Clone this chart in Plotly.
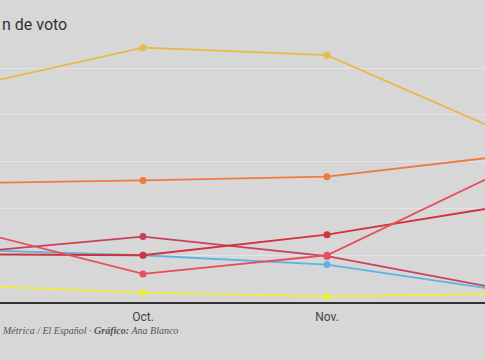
import plotly.graph_objects as go

months = ["Sep.", "Oct.", "Nov.", "Dic."]

serie_oro = [22.8, 27.2, 26.4, 17.8]
serie_naranja = [12.7, 13.0, 13.4, 15.7]
serie_roja = [5.1, 5.0, 7.2, 10.4]
serie_rosa = [8.0, 3.0, 5.0, 14.4]
serie_carmesi = [5.2, 7.0, 4.9, 1.2]
serie_azul = [5.6, 5.0, 4.0, 1.1]
serie_amarilla = [1.8, 1.0, 0.6, 0.9]

series = [
    (serie_amarilla, "#f0ee3c"),
    (serie_azul, "#5bb4e3"),
    (serie_carmesi, "#c9405e"),
    (serie_roja, "#d2323c"),
    (serie_rosa, "#e5505c"),
    (serie_naranja, "#ee7a3e"),
    (serie_oro, "#e8b944"),
]

fig = go.Figure()
for vals, col in series:
    fig.add_trace(go.Scatter(
        x=months, y=vals, mode="lines+markers",
        line=dict(color=col, width=1.8),
        marker=dict(color=col, size=7),
        showlegend=False, hoverinfo="skip", cliponaxis=True,
    ))

fig.update_layout(
    width=485, height=360,
    margin=dict(l=0, r=0, t=40, b=58, autoexpand=False),
    paper_bgcolor="#d7d7d7", plot_bgcolor="#d7d7d7",
    showlegend=False,
    xaxis=dict(
        type="category", range=[0.2228, 2.859],
        showgrid=False, zeroline=False,
        showline=True, linecolor="#333333", linewidth=2,
        ticks="outside", ticklen=3, tickcolor="rgba(0,0,0,0)",
        tickfont=dict(family="Roboto", size=12, color="#444444"),
        tickvals=["Oct.", "Nov."],
    ),
    yaxis=dict(
        range=[0, 28.02], dtick=5, showgrid=True, gridcolor="#e4e4e4",
        gridwidth=1, zeroline=False, showticklabels=False,
    ),
    annotations=[
        dict(text="n de voto", xref="paper", yref="paper", x=0, y=1,
             xanchor="left", yanchor="middle", yshift=16, showarrow=False,
             font=dict(family="Roboto", size=16, color="#333333")),
        dict(text="<i>Métrica / El Español · <b>Gráfico:</b> Ana Blanco</i>",
             xref="paper", yref="paper", x=0, y=0, xshift=0, yshift=-28,
             xanchor="left", yanchor="middle", showarrow=False,
             font=dict(family="Liberation Serif", size=10, color="#555555")),
    ],
)

fig.write_html(
    "out.html",
    config={"displayModeBar": False},
    post_script="document.body.style.margin='0';document.body.style.padding='0';",
)
